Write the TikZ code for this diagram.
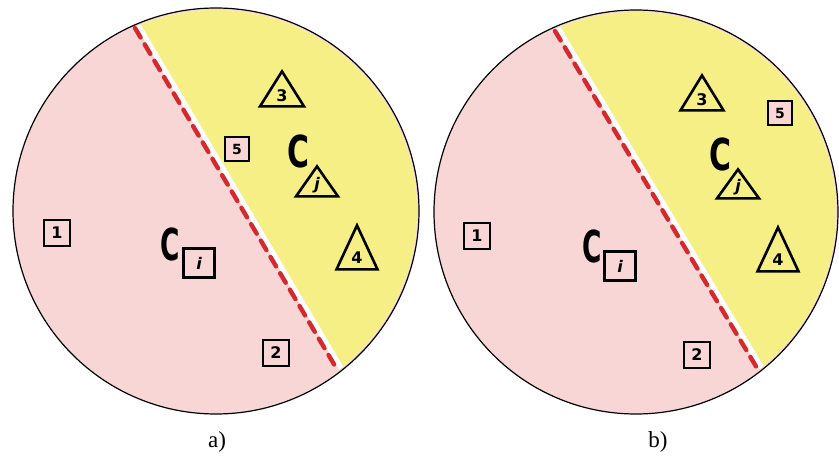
\documentclass[tikz,border=0pt]{standalone}
\usepackage{fontspec}
\setmainfont{Liberation Serif}
\setsansfont{DejaVu Sans}
\usetikzlibrary{positioning, calc, shapes.geometric}
\definecolor{clPink}{HTML}{F9D6D6}
\definecolor{clYellow}{HTML}{F6EF85}
\definecolor{clRed}{HTML}{D42A2E}

\begin{document}
\begin{tikzpicture}[x=1pt, y=-1pt,
    every node/.style={font=\fontsize{16}{16}\selectfont\sffamily\bfseries},
    member/.style={draw, fill=clPink, line width=1.3pt, minimum size=26pt, inner sep=0pt},
    head/.style={member, line width=3pt, minimum width=31pt, minimum height=29pt},
    tri/.style={draw, fill=clYellow, line width=2.6pt, isosceles triangle,
                shape border rotate=90, isosceles triangle stretches, inner sep=0pt, anchor=apex},
    bigc/.style={font=\fontsize{44}{44}\selectfont\sffamily\bfseries},
    cut/.style={clRed, line width=4.4pt, dash pattern=on 11pt off 8pt, line cap=round},
    caption/.style={font=\fontsize{23}{23}\selectfont}]
  \useasboundingbox (0,0) rectangle (839,457);

  % panel a
  \coordinate (aO) at (216,211);
  \coordinate (aTop) at (135,28);
  \coordinate (aBot) at (338,371);
  \fill[clPink] (aO) circle (203);
  \begin{scope}
    \clip (aO) circle (201);
    \fill[white] ($(aTop)!-0.3!(aBot)+(2,0)$) -- ($(aBot)!-0.3!(aTop)+(2,0)$)
      -- ++(200,0) -- ++(0,-600) -- cycle;
    \fill[clYellow] ($(aTop)!-0.3!(aBot)+(8,0)$) -- ($(aBot)!-0.3!(aTop)+(8,0)$)
      -- ++(200,0) -- ++(0,-600) -- cycle;
  \end{scope}
  \draw[cut] (aTop) -- (aBot);
  \draw[line width=1.2pt] (aO) circle (203);
  \node[member] (a1) at (57,233) {1};
  \node[member] (a2) at (276,353) {2};
  \node[member, minimum size=24pt, font=\fontsize{14}{14}\selectfont\sffamily\bfseries] (a5) at (237,149) {5};
  \node[bigc] (aCi) at (170,244) {\scalebox{0.6}[1]{C}};
  \node[head] (ai) at (199,263) {\itshape i};
  \node[tri, minimum width=44pt, minimum height=35pt] (a3) at (282,68) {3};
  \node[bigc] (aCj) at (298,151) {\scalebox{0.68}[1]{C}};
  \node[tri, minimum width=42pt, minimum height=30pt] (aj) at (317,163) {\itshape j};
  \node[tri, minimum width=41pt, minimum height=44pt] (a4) at (357,222) {4};
  \node[caption] (capA) at (217,442) {a)};

  % panel b
  \coordinate (bO) at (636,212);
  \coordinate (bTop) at (555,31);
  \coordinate (bBot) at (760,373);
  \fill[clPink] (bO) circle (202);
  \begin{scope}
    \clip (bO) circle (200);
    \fill[white] ($(bTop)!-0.3!(bBot)+(2,0)$) -- ($(bBot)!-0.3!(bTop)+(2,0)$)
      -- ++(200,0) -- ++(0,-600) -- cycle;
    \fill[clYellow] ($(bTop)!-0.3!(bBot)+(8,0)$) -- ($(bBot)!-0.3!(bTop)+(8,0)$)
      -- ++(200,0) -- ++(0,-600) -- cycle;
  \end{scope}
  \draw[cut] (bTop) -- (bBot);
  \draw[line width=1.2pt] (bO) circle (202);
  \node[member] (b1) at (477,236) {1};
  \node[member] (b2) at (697,355) {2};
  \node[member, minimum size=24pt, font=\fontsize{14}{14}\selectfont\sffamily\bfseries] (b5) at (780,113) {5};
  \node[bigc] (bCi) at (592,246) {\scalebox{0.6}[1]{C}};
  \node[head] (bi) at (620,266) {\itshape i};
  \node[tri, minimum width=43pt, minimum height=35pt] (b3) at (702,72) {3};
  \node[bigc] (bCj) at (720,154) {\scalebox{0.68}[1]{C}};
  \node[tri, minimum width=42pt, minimum height=29pt] (bj) at (738,166) {\itshape j};
  \node[tri, minimum width=41pt, minimum height=44pt] (b4) at (778,224) {4};
  \node[caption] (capB) at (658,442) {b)};
\end{tikzpicture}
\end{document}
